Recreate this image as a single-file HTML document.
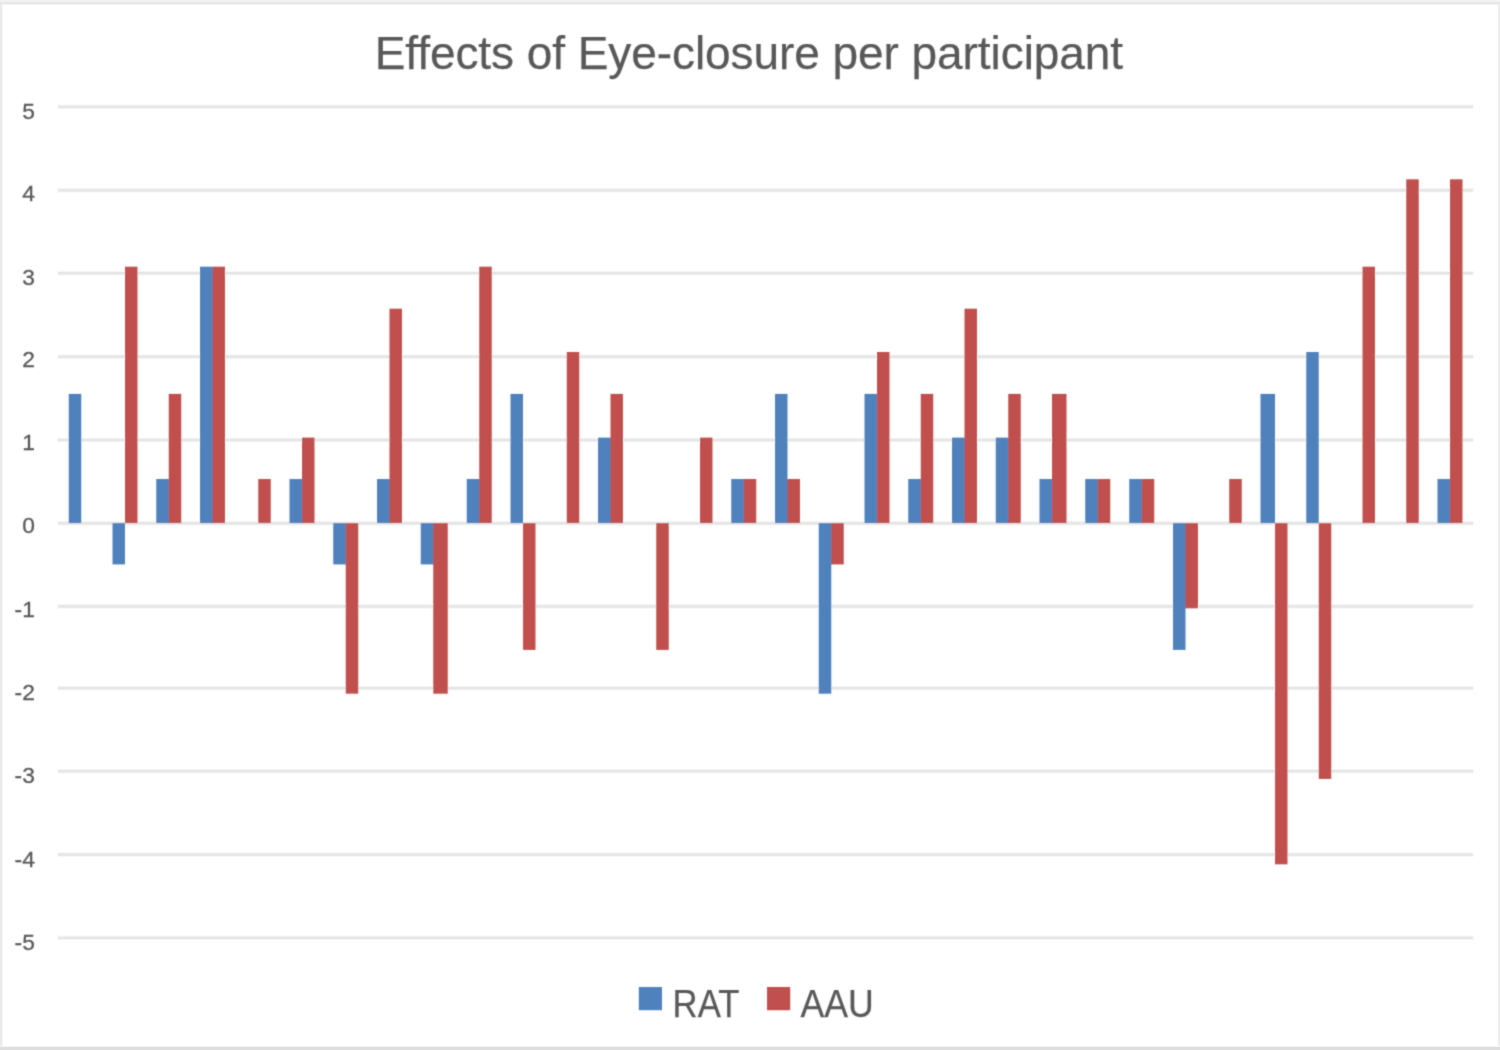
<!DOCTYPE html>
<html lang="en">
<head>
<meta charset="utf-8">
<title>Effects of Eye-closure per participant</title>
<style>
html,body{margin:0;padding:0;background:#fff;}
body{width:1500px;height:1050px;overflow:hidden;}
svg{display:block;}
text{font-family:"Liberation Sans",Arial,Helvetica,sans-serif;fill:#595959;}
.title{font-size:46px;letter-spacing:-0.065px;stroke:#595959;stroke-width:0.25px;}
.ax{font-size:22.8px;stroke:#595959;stroke-width:0.3px;}
.lg{font-size:38.3px;stroke:#595959;stroke-width:0.25px;}
</style>
</head>
<body>
<svg width="1500" height="1050" viewBox="0 0 1500 1050">
<defs><filter id="soft" x="0" y="0" width="1500" height="1050" filterUnits="userSpaceOnUse"><feConvolveMatrix order="3" kernelMatrix="1 4 1 4 16 4 1 4 1" divisor="36" edgeMode="duplicate" preserveAlpha="false"/></filter></defs>
<rect x="0" y="0" width="1500" height="1050" fill="#ffffff"/>
<g id="frame">
<rect x="0" y="0" width="1500" height="2" fill="#f2f2f2"/>
<rect x="0" y="2" width="1500" height="2" fill="#e7e7e7"/>
<rect x="0" y="4" width="1500" height="1" fill="#f3f3f3"/>
<rect x="0" y="4" width="2" height="1046" fill="#ebebeb"/>
<rect x="2" y="5" width="1" height="1041" fill="#f7f7f7"/>
<rect x="1498" y="4" width="2" height="1046" fill="#eeeeee"/>
<rect x="0" y="1047" width="1500" height="3" fill="#dedede"/>
<rect x="0" y="1046" width="1500" height="1" fill="#f4f4f4"/>
</g>
<g id="chart" filter="url(#soft)">
<g id="grid">
<rect x="57.5" y="104.70" width="1416" height="4.2" fill="#f5f5f5"/>
<rect x="58" y="105.60" width="1415" height="2.4" fill="#e4e4e4"/>
<rect x="57.5" y="188.20" width="1416" height="4.2" fill="#f5f5f5"/>
<rect x="58" y="189.10" width="1415" height="2.4" fill="#e4e4e4"/>
<rect x="57.5" y="271.10" width="1416" height="4.2" fill="#f5f5f5"/>
<rect x="58" y="272.00" width="1415" height="2.4" fill="#e4e4e4"/>
<rect x="57.5" y="354.60" width="1416" height="4.2" fill="#f5f5f5"/>
<rect x="58" y="355.50" width="1415" height="2.4" fill="#e4e4e4"/>
<rect x="57.5" y="437.90" width="1416" height="4.2" fill="#f5f5f5"/>
<rect x="58" y="438.80" width="1415" height="2.4" fill="#e4e4e4"/>
<rect x="57.5" y="521.20" width="1416" height="4.2" fill="#f5f5f5"/>
<rect x="58" y="522.10" width="1415" height="2.4" fill="#e4e4e4"/>
<rect x="57.5" y="604.30" width="1416" height="4.2" fill="#f5f5f5"/>
<rect x="58" y="605.20" width="1415" height="2.4" fill="#e4e4e4"/>
<rect x="57.5" y="686.00" width="1416" height="4.2" fill="#f5f5f5"/>
<rect x="58" y="686.90" width="1415" height="2.4" fill="#e4e4e4"/>
<rect x="57.5" y="769.10" width="1416" height="4.2" fill="#f5f5f5"/>
<rect x="58" y="770.00" width="1415" height="2.4" fill="#e4e4e4"/>
<rect x="57.5" y="852.50" width="1416" height="4.2" fill="#f5f5f5"/>
<rect x="58" y="853.40" width="1415" height="2.4" fill="#e4e4e4"/>
<rect x="57.5" y="935.80" width="1416" height="4.2" fill="#f5f5f5"/>
<rect x="58" y="936.70" width="1415" height="2.4" fill="#e4e4e4"/>
</g>
<g id="yaxis" class="ax" text-anchor="end">
<text x="34.9" y="118.5">5</text>
<text x="34.9" y="201.3">4</text>
<text x="34.9" y="285.1">3</text>
<text x="34.9" y="366.6">2</text>
<text x="34.9" y="450.0">1</text>
<text x="34.9" y="533.2">0</text>
<text x="34.9" y="616.5">-1</text>
<text x="34.9" y="699.7">-2</text>
<text x="34.9" y="783.3">-3</text>
<text x="34.9" y="866.9">-4</text>
<text x="34.9" y="949.9">-5</text>
</g>
<g id="rat" fill="#4f81bd">
<rect x="68.75" y="393.90" width="12.5" height="129.20"/>
<rect x="112.50" y="523.10" width="12.5" height="41.30"/>
<rect x="156.25" y="479.00" width="12.5" height="44.10"/>
<rect x="168.25" y="479.60" width="1.5" height="43.50"/>
<rect x="200.00" y="266.70" width="12.5" height="256.40"/>
<rect x="212.00" y="267.30" width="1.5" height="255.80"/>
<rect x="289.50" y="479.00" width="12.5" height="44.10"/>
<rect x="301.50" y="479.60" width="1.5" height="43.50"/>
<rect x="333.25" y="523.10" width="12.5" height="41.30"/>
<rect x="345.25" y="523.70" width="1.5" height="40.70"/>
<rect x="377.00" y="479.00" width="12.5" height="44.10"/>
<rect x="389.00" y="479.60" width="1.5" height="43.50"/>
<rect x="420.75" y="523.10" width="12.5" height="41.30"/>
<rect x="432.75" y="523.70" width="1.5" height="40.70"/>
<rect x="466.75" y="479.00" width="12.5" height="44.10"/>
<rect x="478.75" y="479.60" width="1.5" height="43.50"/>
<rect x="510.50" y="393.90" width="12.5" height="129.20"/>
<rect x="598.00" y="437.60" width="12.5" height="85.50"/>
<rect x="610.00" y="438.20" width="1.5" height="84.90"/>
<rect x="731.25" y="479.00" width="12.5" height="44.10"/>
<rect x="743.25" y="479.60" width="1.5" height="43.50"/>
<rect x="775.00" y="393.90" width="12.5" height="129.20"/>
<rect x="787.00" y="479.60" width="1.5" height="43.50"/>
<rect x="818.75" y="523.10" width="12.5" height="170.60"/>
<rect x="830.75" y="523.70" width="1.5" height="40.70"/>
<rect x="864.50" y="393.90" width="12.5" height="129.20"/>
<rect x="876.50" y="394.50" width="1.5" height="128.60"/>
<rect x="908.25" y="479.00" width="12.5" height="44.10"/>
<rect x="920.25" y="479.60" width="1.5" height="43.50"/>
<rect x="952.00" y="437.60" width="12.5" height="85.50"/>
<rect x="964.00" y="438.20" width="1.5" height="84.90"/>
<rect x="995.75" y="437.60" width="12.5" height="85.50"/>
<rect x="1007.75" y="438.20" width="1.5" height="84.90"/>
<rect x="1039.50" y="479.00" width="12.5" height="44.10"/>
<rect x="1051.50" y="479.60" width="1.5" height="43.50"/>
<rect x="1085.25" y="479.00" width="12.5" height="44.10"/>
<rect x="1097.25" y="479.60" width="1.5" height="43.50"/>
<rect x="1129.25" y="479.00" width="12.5" height="44.10"/>
<rect x="1141.25" y="479.60" width="1.5" height="43.50"/>
<rect x="1173.00" y="523.10" width="12.5" height="126.80"/>
<rect x="1185.00" y="523.70" width="1.5" height="84.60"/>
<rect x="1260.50" y="393.90" width="14.5" height="129.20"/>
<rect x="1306.25" y="352.00" width="12.5" height="171.10"/>
<rect x="1437.50" y="479.00" width="12.5" height="44.10"/>
<rect x="1449.50" y="479.60" width="1.5" height="43.50"/>
</g>
<g id="aau" fill="#c0504d">
<rect x="125.00" y="266.70" width="12.5" height="256.40"/>
<rect x="168.75" y="393.90" width="12.5" height="129.20"/>
<rect x="212.50" y="266.70" width="12.5" height="256.40"/>
<rect x="258.25" y="479.00" width="12.5" height="44.10"/>
<rect x="302.00" y="437.60" width="12.5" height="85.50"/>
<rect x="345.75" y="523.10" width="12.5" height="170.60"/>
<rect x="389.50" y="308.70" width="12.5" height="214.40"/>
<rect x="433.25" y="523.10" width="14.5" height="170.60"/>
<rect x="479.25" y="266.70" width="12.5" height="256.40"/>
<rect x="523.00" y="523.10" width="12.5" height="126.80"/>
<rect x="566.75" y="352.00" width="12.5" height="171.10"/>
<rect x="610.50" y="393.90" width="12.5" height="129.20"/>
<rect x="656.25" y="523.10" width="12.5" height="126.80"/>
<rect x="700.00" y="437.60" width="12.5" height="85.50"/>
<rect x="743.75" y="479.00" width="12.5" height="44.10"/>
<rect x="787.50" y="479.00" width="12.5" height="44.10"/>
<rect x="831.25" y="523.10" width="12.5" height="41.30"/>
<rect x="877.00" y="352.00" width="12.5" height="171.10"/>
<rect x="920.75" y="393.90" width="12.5" height="129.20"/>
<rect x="964.50" y="308.70" width="12.5" height="214.40"/>
<rect x="1008.25" y="393.90" width="12.5" height="129.20"/>
<rect x="1052.00" y="393.90" width="14.5" height="129.20"/>
<rect x="1097.75" y="479.00" width="12.5" height="44.10"/>
<rect x="1141.75" y="479.00" width="12.5" height="44.10"/>
<rect x="1185.50" y="523.10" width="12.5" height="85.20"/>
<rect x="1229.25" y="479.00" width="12.5" height="44.10"/>
<rect x="1275.00" y="523.10" width="12.5" height="341.20"/>
<rect x="1318.75" y="523.10" width="12.5" height="255.80"/>
<rect x="1362.50" y="266.70" width="12.5" height="256.40"/>
<rect x="1406.25" y="179.30" width="12.5" height="343.80"/>
<rect x="1450.00" y="179.30" width="12.5" height="343.80"/>
</g>
<text class="title" x="748.9" y="69" text-anchor="middle">Effects of Eye-closure per participant</text>
<g id="legend">
<rect x="638.8" y="987" width="23.2" height="23.2" fill="#4f81bd"/>
<text class="lg" x="672.6" y="1016.5" textLength="66.8" lengthAdjust="spacingAndGlyphs">RAT</text>
<rect x="767" y="987" width="23.2" height="23.2" fill="#c0504d"/>
<text class="lg" x="800.5" y="1016.5" textLength="73.2" lengthAdjust="spacingAndGlyphs">AAU</text>
</g>
</g>
</svg>
</body>
</html>
